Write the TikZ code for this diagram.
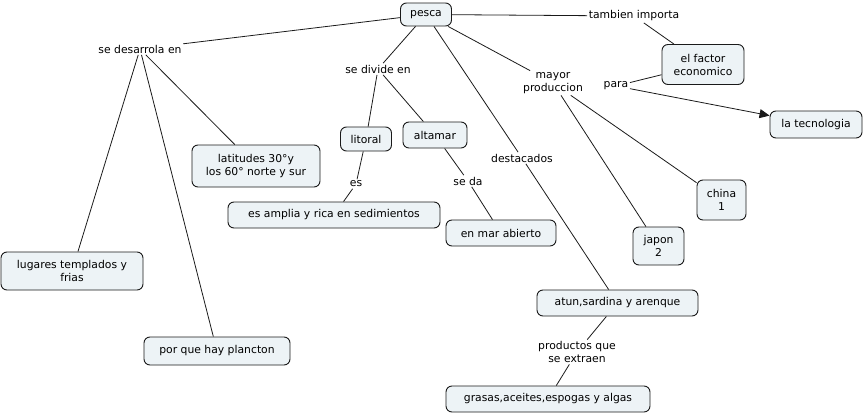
\documentclass[tikz,border=0pt]{standalone}
\usepackage{fontspec}
\setmainfont{DejaVu Sans}
\usetikzlibrary{arrows.meta}
\definecolor{boxfill}{HTML}{EDF3F6}
\definecolor{linecol}{HTML}{1A1A1A}
\begin{document}
\begin{tikzpicture}[x=1pt,y=-1pt,
  concept/.style={draw=linecol, line width=0.9pt, fill=boxfill, rounded corners=6pt, align=center, inner sep=0pt, font=\fontsize{10.8}{13}\selectfont},
  phrase/.style={fill=white, align=center, inner sep=1.5pt, font=\fontsize{10.8}{13}\selectfont},
  conn/.style={draw=linecol, line width=0.8pt}]
\useasboundingbox (0,0) rectangle (865,415);
% concepts
\node[concept, minimum width=51pt, minimum height=23pt] (pesca) at (426,14.5) {pesca};
\node[concept, minimum width=128pt, minimum height=42pt] (lat) at (256,166) {latitudes 30°y\\los 60° norte y sur};
\node[concept, minimum width=142pt, minimum height=38pt] (lug) at (72,271) {lugares templados y\\frias};
\node[concept, minimum width=146pt, minimum height=28pt] (plan) at (217,351) {por que hay plancton};
\node[concept, minimum width=51pt, minimum height=24pt] (lit) at (366,139) {litoral};
\node[concept, minimum width=64pt, minimum height=26pt] (alt) at (435,135) {altamar};
\node[concept, minimum width=212pt, minimum height=26pt] (amp) at (334,215) {es amplia y rica en sedimientos};
\node[concept, minimum width=110pt, minimum height=26pt] (mar) at (501,233) {en mar abierto};
\node[concept, minimum width=161pt, minimum height=26pt] (atun) at (617.5,303) {atun,sardina y arenque};
\node[concept, minimum width=204pt, minimum height=26pt] (gras) at (548,399) {grasas,aceites,espogas y algas};
\node[concept, minimum width=51pt, minimum height=38pt] (jap) at (658.5,246) {japon\\2};
\node[concept, minimum width=49pt, minimum height=40pt] (chi) at (721.5,200) {china\\1};
\node[concept, minimum width=82pt, minimum height=40pt] (fac) at (703,64.5) {el factor\\economico};
\node[concept, minimum width=92pt, minimum height=27pt] (tec) at (816,124.5) {la tecnologia};
% linking phrases
\node[phrase] (desa) at (140,49) {se desarrola en};
\node[phrase] (divi) at (378,69) {se divide en};
\node[phrase] (es) at (356,184) {es};
\node[phrase] (seda) at (468,181) {se da};
\node[phrase] (dest) at (522,158) {destacados};
\node[phrase] (prod) at (577,352) {productos que\\se extraen};
\node[phrase] (mayo) at (553,83) {mayor\\produccion};
\node[phrase] (tamb) at (634,16) {tambien importa};
\node[phrase] (para) at (616,86) {para};
% connectors
\draw[conn] (pesca) -- (desa);
\draw[conn] (desa) -- (lat);
\draw[conn] (desa) -- (lug);
\draw[conn] (desa) -- (plan);
\draw[conn] (pesca) -- (divi);
\draw[conn] (divi) -- (lit);
\draw[conn] (divi) -- (alt);
\draw[conn] (lit) -- (es);
\draw[conn] (es) -- (amp);
\draw[conn] (alt) -- (seda);
\draw[conn] (seda) -- (mar);
\draw[conn] (pesca) -- (dest);
\draw[conn] (dest) -- (atun);
\draw[conn] (atun) -- (prod);
\draw[conn] (prod) -- (gras);
\draw[conn] (pesca) -- (mayo);
\draw[conn] (mayo) -- (jap);
\draw[conn] (mayo) -- (chi);
\draw[conn] (pesca) -- (tamb);
\draw[conn] (tamb) -- (fac);
\draw[conn] (fac) -- (para);
\draw[conn, -{Triangle[length=10pt,width=9pt]}] (para) -- (tec);
\end{tikzpicture}
\end{document}
